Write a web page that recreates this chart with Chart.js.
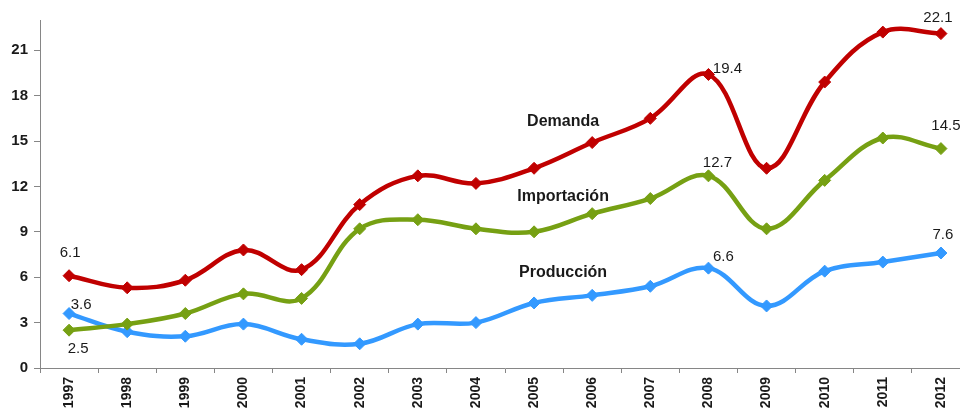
<!DOCTYPE html>
<html>
<head>
<meta charset="utf-8">
<script src="https://cdn.jsdelivr.net/npm/chart.js@4"></script>
<style>
  html, body { margin: 0; padding: 0; background: #fff; }
  #wrap { width: 960px; height: 409px; overflow: hidden; position: relative; }
</style>
</head>
<body>
<div id="wrap"><canvas id="myChart" width="980" height="420"></canvas></div>
<script>
// Data
const years = ['1997', '1998', '1999', '2000', '2001', '2002', '2003', '2004',
  '2005', '2006', '2007', '2008', '2009', '2010', '2011', '2012'];
const demanda = [6.1, 5.3, 5.8, 7.8, 6.5, 10.8, 12.7, 12.2, 13.2, 14.9, 16.5, 19.4, 13.2, 18.9, 22.2, 22.1];
const importacion = [2.5, 2.9, 3.6, 4.9, 4.6, 9.2, 9.8, 9.2, 9.0, 10.2, 11.2, 12.7, 9.2, 12.4, 15.2, 14.5];
const produccion = [3.6, 2.4, 2.1, 2.9, 1.9, 1.6, 2.9, 3.0, 4.3, 4.8, 5.4, 6.6, 4.1, 6.4, 7.0, 7.6];
const yTicks = [0, 3, 6, 9, 12, 15, 18, 21];

// Value labels shown next to some points: [dataset, index, dx, dy]
const valueLabels = [
  [0, 0, 1, -23], [2, 0, 12, -9], [1, 0, 9, 19],
  [0, 11, 19, -6], [1, 11, 9, -13], [2, 11, 15, -11],
  [0, 15, -3, -16], [1, 15, 5, -23], [2, 15, 2, -18]
];
// Series names written inside the chart: [text, category position, value]
const seriesNames = [['Demanda', 8.5, 16.3], ['Importación', 8.5, 11.3], ['Producción', 8.5, 6.3]];

const labelPlugin = {
  id: 'labels',
  afterDatasetsDraw(chart) {
    const ctx = chart.ctx;
    ctx.save();
    ctx.textAlign = 'center';
    ctx.textBaseline = 'middle';
    ctx.fillStyle = '#1a1a1a';
    ctx.font = '15px "Liberation Sans", Arial, sans-serif';
    valueLabels.forEach(([ds, i, dx, dy]) => {
      const pt = chart.getDatasetMeta(ds).data[i];
      const v = chart.data.datasets[ds].data[i];
      ctx.fillText(v.toFixed(1), pt.x + dx, pt.y + dy);
    });
    ctx.font = 'bold 16px "Liberation Sans", Arial, sans-serif';
    seriesNames.forEach(([txt, xi, yv]) => {
      ctx.fillText(txt, chart.scales.x.getPixelForValue(xi), chart.scales.y.getPixelForValue(yv));
    });
    ctx.restore();
  }
};

function series(label, data, color) {
  return {
    label: label,
    data: data,
    borderColor: color,
    backgroundColor: color,
    borderWidth: 4.5,
    pointStyle: 'rectRot',
    pointRadius: 6,
    pointBorderWidth: 1,
    tension: 0.38,
    fill: false
  };
}

const tickFont = { family: '"Liberation Sans", Arial, sans-serif', size: 14, weight: 'bold' };

const chartConfig = {
  type: 'line',
  data: {
    labels: years,
    datasets: [
      series('Demanda', demanda, '#C00000'),
      series('Importación', importacion, '#76A013'),
      series('Producción', produccion, '#3399FF')
    ]
  },
  options: {
    responsive: false,
    animation: false,
    layout: { padding: { top: 20, right: 10, left: 0, bottom: 0 } },
    plugins: {
      legend: { display: false },
      tooltip: { enabled: false }
    },
    scales: {
      x: {
        offset: true,
        grid: { offset: true, drawOnChartArea: false, drawTicks: true, tickLength: 5, color: '#868686' },
        border: { display: true, color: '#868686', width: 1 },
        ticks: { minRotation: 90, maxRotation: 90, padding: 4, color: '#1a1a1a', font: tickFont, autoSkip: false },
        afterFit(scale) { scale.height = 52; }
      },
      y: {
        min: 0,
        max: 23,
        grid: { drawOnChartArea: false, drawTicks: true, tickLength: 6, color: '#868686' },
        border: { display: true, color: '#868686', width: 1 },
        ticks: { stepSize: 3, padding: 6, color: '#1a1a1a', font: { family: '"Liberation Sans", Arial, sans-serif', size: 15, weight: 'bold' } },
        afterBuildTicks(scale) { scale.ticks = yTicks.map(v => ({ value: v })); },
        afterFit(scale) { scale.width = 40; }
      }
    }
  },
  plugins: [labelPlugin]
};

const myChart = new Chart(document.getElementById('myChart'), chartConfig);
</script>
</body>
</html>
